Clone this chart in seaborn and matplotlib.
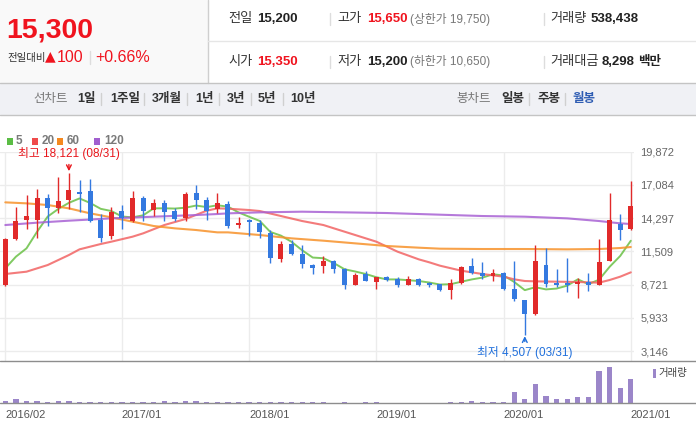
import numpy as np
import pandas as pd
import seaborn as sns
import matplotlib.pyplot as plt
from matplotlib.lines import Line2D
from matplotlib.patches import Rectangle

# monthly candles 2016/02 .. 2021/01
months = pd.period_range("2016-02", "2021-01", freq="M")
open_ = [8684, 12544, 14138, 14138, 15956, 15173, 15816, 16460, 16572, 14138,
         12824, 14893, 14054, 15956, 15005, 15565, 14893, 14334, 16432, 15816,
         15061, 15481, 13747, 14054, 13886, 13048, 10894, 12125, 11285, 10362,
         10306, 10698, 10027, 8712, 9607, 8964, 9356, 9188, 8712, 9188,
         8768, 8768, 8293, 8852, 10278, 9691, 9467, 9691, 8348, 7425,
         6250, 10362, 8852, 8852, 8796, 8908, 8712, 10698, 13803, 13383]
high = [12600, 15201, 16236, 16739, 16320, 17775, 18121, 17494, 17550, 14642,
        15201, 15397, 16572, 16152, 15872, 15816, 15117, 16460, 17075, 16096,
        16432, 15733, 14362, 14194, 14138, 13299, 12376, 12460, 12041, 10474,
        11117, 10754, 10082, 9691, 9859, 9356, 9439, 9328, 9467, 9272,
        8964, 8768, 9188, 10278, 10978, 10642, 10027, 9747, 10698, 7425,
        12041, 11817, 10027, 10978, 9272, 9719, 12544, 16432, 14642, 17439]
low = [8630, 12488, 13383, 12656, 13663, 14697, 15061, 14837, 13998, 12320,
       12544, 13383, 13943, 14054, 14502, 14054, 14054, 14054, 15061, 14138,
       14697, 13439, 13495, 12824, 12656, 10558, 10642, 11201, 10138, 9635,
       9719, 9719, 8376, 8712, 9048, 8376, 9048, 8544, 8712, 8628,
       8488, 8209, 7537, 8796, 9607, 9160, 9048, 8293, 7370, 4507,
       6200, 8544, 8516, 8097, 7621, 8209, 8712, 10698, 12488, 13299]
close = [12544, 14054, 14474, 15956, 15117, 15733, 16627, 16320, 14054, 12656,
         14809, 14334, 15956, 14921, 15565, 14837, 14222, 16320, 15816, 14921,
         15593, 13663, 13886, 13998, 13159, 10978, 12125, 11285, 10446, 10110,
         10698, 10054, 8712, 9523, 9048, 9356, 9132, 8712, 9188, 8712,
         8712, 8293, 8852, 10222, 9691, 9467, 9691, 8348, 7509, 6250,
         10698, 8768, 8712, 8712, 8908, 8712, 10586, 14138, 13271, 15300]
# volume, thousand shares
volume = [500, 1100, 500, 500, 300, 500, 500, 300, 300, 300,
          300, 300, 300, 300, 300, 500, 300, 500, 500, 300,
          300, 300, 300, 300, 300, 300, 300, 300, 300, 300,
          300, 0, 300, 0, 300, 300, 0, 0, 0, 0,
          0, 0, 300, 300, 500, 300, 300, 300, 3200, 1100,
          5600, 2000, 1100, 1100, 1700, 1700, 9500, 10700, 4400, 7100]

# moving averages
ma5_head = [10082, 11061, 11761, 13159]
ma20_idx = [0, 2, 4, 6, 7, 9, 10, 12, 13, 15, 17, 19, 20, 21, 23, 24, 26, 28, 30,
            31, 33, 35, 37, 39, 40, 41, 43, 45, 47, 48, 49, 50, 52, 54, 56, 57, 58, 59]
ma20_val = [9607, 9803, 10362, 11201, 11677, 12125, 12320, 12740, 13019, 13719,
            14222, 14921, 15117, 15089, 14977, 14893, 14474, 14054, 13719, 13439,
            12880, 12320, 11481, 10838, 10586, 10306, 9887, 9607, 9384, 9160,
            9020, 8992, 8964, 8936, 8880, 9104, 9384, 9747]
ma60_idx = [0, 2, 4, 6, 8, 10, 12, 14, 16, 18, 20, 21, 24, 27, 30, 33, 36, 39, 41,
            45, 49, 53, 56, 58, 59]
ma60_val = [15621, 15537, 15397, 15117, 14698, 14362, 13999, 13635, 13439, 13299,
            13103, 13103, 12880, 12600, 12404, 12180, 11957, 11817, 11733, 11705,
            11705, 11677, 11705, 11789, 11873]
ma120_idx = [0, 3, 6, 10, 14, 18, 20, 21, 24, 28, 32, 36, 40, 45, 49, 53, 56, 58, 59]
ma120_val = [13719, 13915, 14082, 14278, 14418, 14558, 14642, 14697, 14781, 14837,
             14781, 14725, 14614, 14474, 14418, 14278, 14054, 13859, 13803]

ytick_vals = [3146, 5933, 8721, 11509, 14297, 17084, 19872]
xtick_labels = ["2016/02", "2017/01", "2018/01", "2019/01", "2020/01", "2021/01"]

RED = "#e12a2a"
BLUE = "#3479e0"
W, H = 696, 438

sns.set_style("white")
plt.rcParams["font.family"] = ["Liberation Sans", "Noto Sans CJK KR", "DejaVu Sans"]
plt.rcParams["patch.force_edgecolor"] = False

df = pd.DataFrame({"open": open_, "high": high, "low": low, "close": close, "vol": volume})
df["idx"] = np.arange(len(df))
df["ma5"] = df["close"].rolling(5).mean()
df.loc[:3, "ma5"] = ma5_head
up = df["close"] >= df["open"]
df["col"] = np.where(up, RED, BLUE)

fig = plt.figure(figsize=(W / 100, H / 100), dpi=100)


def fx(x):
    return x / W


def fy(y):
    return 1 - y / H


def txt(x, y, s, **kw):
    kw.setdefault("va", "center")
    fig.text(fx(x), fy(y), s, **kw)


def hline(x0, x1, y, color, lw=1):
    fig.add_artist(Line2D([fx(x0), fx(x1)], [fy(y), fy(y)], color=color, lw=lw))


def vline(x, y0, y1, color, lw=1):
    fig.add_artist(Line2D([fx(x), fx(x)], [fy(y0), fy(y1)], color=color, lw=lw))


# ---- header
fig.patches.append(Rectangle((0, fy(83)), fx(208), 83 / H, transform=fig.transFigure,
                             facecolor="#f9f9f9", edgecolor="none", zorder=0))
fig.patches.append(Rectangle((0, fy(115)), 1, 32 / H, transform=fig.transFigure,
                             facecolor="#f0f1f5", edgecolor="none", zorder=0))
vline(208, 0, 83, "#cfcfcf")
hline(208, W, 40.5, "#e6e6e6")
hline(0, W, 83, "#c4c4c4")
hline(0, W, 115, "#c4c4c4")

txt(6, 30, f"{close[-1]:,}", color="#f0131e", fontsize=20.5, fontweight="bold")
txt(7, 57.5, "전일대비", color="#333333", fontsize=7.5)
txt(44.5, 56.5, "▲", color="#f0131e", fontsize=10, family=["DejaVu Sans"])
txt(57, 57, "100", color="#f0131e", fontsize=11.5)
vline(90, 51, 64, "#dddddd")
txt(95, 57, "+0.66%", color="#f0131e", fontsize=11.5)

rows = [
    (19, [("전일", 228, "#333333", "normal", 9.5), ("15,200", 257, "#222222", "bold", 9.5),
          ("고가", 337, "#333333", "normal", 9.5), ("15,650", 367, "#f0131e", "bold", 9.5),
          ("(상한가 19,750)", 410, "#777777", "normal", 8.5),
          ("거래량", 550, "#333333", "normal", 9.5), ("538,438", 591, "#222222", "bold", 9.5)]),
    (62, [("시가", 228, "#333333", "normal", 9.5), ("15,350", 257, "#f0131e", "bold", 9.5),
          ("저가", 337, "#333333", "normal", 9.5), ("15,200", 367, "#222222", "bold", 9.5),
          ("(하한가 10,650)", 410, "#777777", "normal", 8.5),
          ("거래대금", 550, "#333333", "normal", 9.5), ("8,298", 602, "#222222", "bold", 9.5),
          ("백만", 638, "#222222", "bold", 9)]),
]
for y, items in rows:
    for s, x, c, wgt, fs in items:
        txt(x, y, s, color=c, fontweight=wgt, fontsize=fs)
    vline(330, y - 6, y + 6, "#dddddd")
    vline(544, y - 6, y + 6, "#dddddd")

# toolbar
txt(33, 99, "선차트", color="#777777", fontsize=9)
for s, x in [("1일", 77), ("1주일", 110), ("3개월", 152), ("1년", 195),
             ("3년", 227), ("5년", 258), ("10년", 290)]:
    txt(x, 99, s, color="#333333", fontsize=9, fontweight="bold")
for x in [101, 144, 187, 219, 251, 283]:
    vline(x, 93, 105, "#d0d0d0")
txt(456, 99, "봉차트", color="#777777", fontsize=9)
txt(501, 99, "일봉", color="#333333", fontsize=9, fontweight="bold")
txt(537, 99, "주봉", color="#333333", fontsize=9, fontweight="bold")
txt(573, 99, "월봉", color="#2f5db3", fontsize=9, fontweight="bold")
vline(529, 93, 105, "#d0d0d0")
vline(565, 93, 105, "#d0d0d0")

# MA legend
for x0, c, lab, tx in [(7, "#5bbd45", "5", 16), (32, "#ef4b4b", "20", 42),
                       (57, "#f5891f", "60", 67), (94, "#a15fcf", "120", 104)]:
    fig.patches.append(Rectangle((fx(x0), fy(145)), 6 / W, 7 / H, transform=fig.transFigure,
                                 facecolor=c, edgecolor="none"))
    txt(tx, 141.5, lab, color="#7a7a7a", fontsize=8.5, fontweight="bold")

# ---- price panel
ax = fig.add_axes([0, fy(361), fx(634), (361 - 151.7) / H])
ax.vlines(df["idx"], df["low"], df["high"], colors=df["col"], lw=1, zorder=3)
body = np.maximum((df["close"] - df["open"]).abs(), 110)
ax.bar(df["idx"], body, bottom=np.minimum(df["open"], df["close"]), width=0.47,
       color=df["col"], edgecolor="none", linewidth=0, zorder=4)

sns.lineplot(x=df["idx"], y=df["ma5"], ax=ax, color="#72c450", lw=1.4, alpha=0.9, zorder=2)
sns.lineplot(x=ma20_idx, y=ma20_val, ax=ax, color="#f26464", lw=1.5, alpha=0.85, zorder=2)
sns.lineplot(x=ma60_idx, y=ma60_val, ax=ax, color="#f7922a", lw=1.5, alpha=0.85, zorder=2)
sns.lineplot(x=ma120_idx, y=ma120_val, ax=ax, color="#a862d4", lw=1.5, alpha=0.85, zorder=2)

ax.set_xlim(-0.5, 59.3)
ax.set_ylim(2307, 19872)
ax.set_yticks(ytick_vals)
ax.set_yticklabels([f"{v:,}" for v in ytick_vals])
ax.yaxis.tick_right()
year_pos = [list(months.strftime("%Y/%m")).index(l) for l in xtick_labels]
ax.set_xticks(year_pos)
ax.tick_params(axis="x", length=0, labelbottom=False)
ax.tick_params(axis="y", length=0, pad=4.5, labelsize=8, labelcolor="#666666")
ax.grid(True, color="#ececec", lw=1)
ax.set_axisbelow(True)
ax.set_xlabel("")
ax.set_ylabel("")
for sp in ax.spines.values():
    sp.set_visible(False)

imax = int(np.argmax(high))
imin = int(np.argmin(low))
ax.annotate(f"최고 {high[imax]:,} ({months[imax].strftime('%m')}/31)", xy=(imax, high[imax]),
            xytext=(0, 13.5), textcoords="offset points", ha="center", va="center",
            color="#e8151b", fontsize=8.5,
            arrowprops=dict(arrowstyle="->", color="#e8151b", lw=1, shrinkA=1, shrinkB=1))
ax.annotate(f"최저 {low[imin]:,} ({months[imin].strftime('%m')}/31)", xy=(imin, low[imin]),
            xytext=(0, -12.5), textcoords="offset points", ha="center", va="center",
            color="#1f6fdc", fontsize=8.5,
            arrowprops=dict(arrowstyle="->", color="#1f6fdc", lw=1, shrinkA=1, shrinkB=1))

# ---- volume panel
vax = fig.add_axes([0, fy(402.7), fx(634), (402.7 - 361) / H])
sns.barplot(x=df["idx"], y=df["vol"], native_scale=True, color="#9b86c9", saturation=1,
            width=0.5, errorbar=None, edgecolor="none", linewidth=0, ax=vax)
vax.set_xlim(-0.5, 59.3)
vax.set_ylim(0, 12500)
vax.set_yticks([])
vax.set_xticks(year_pos)
vax.set_xticklabels(xtick_labels, ha="left")
vax.tick_params(axis="x", length=3.4, width=1, color="#777777", pad=1.5,
                labelsize=8, labelcolor="#555555")
vax.set_xlabel("")
vax.set_ylabel("")
for sp in vax.spines.values():
    sp.set_visible(False)

hline(0, W, 361, "#8d8d8d")
hline(0, W, 402.7, "#8d8d8d")
fig.patches.append(Rectangle((fx(653), fy(378)), 3 / W, 9 / H, transform=fig.transFigure,
                             facecolor="#9b86c9", edgecolor="none"))
txt(658, 373, "거래량", color="#444444", fontsize=7.5)

fig.savefig("out.png", dpi=100)
